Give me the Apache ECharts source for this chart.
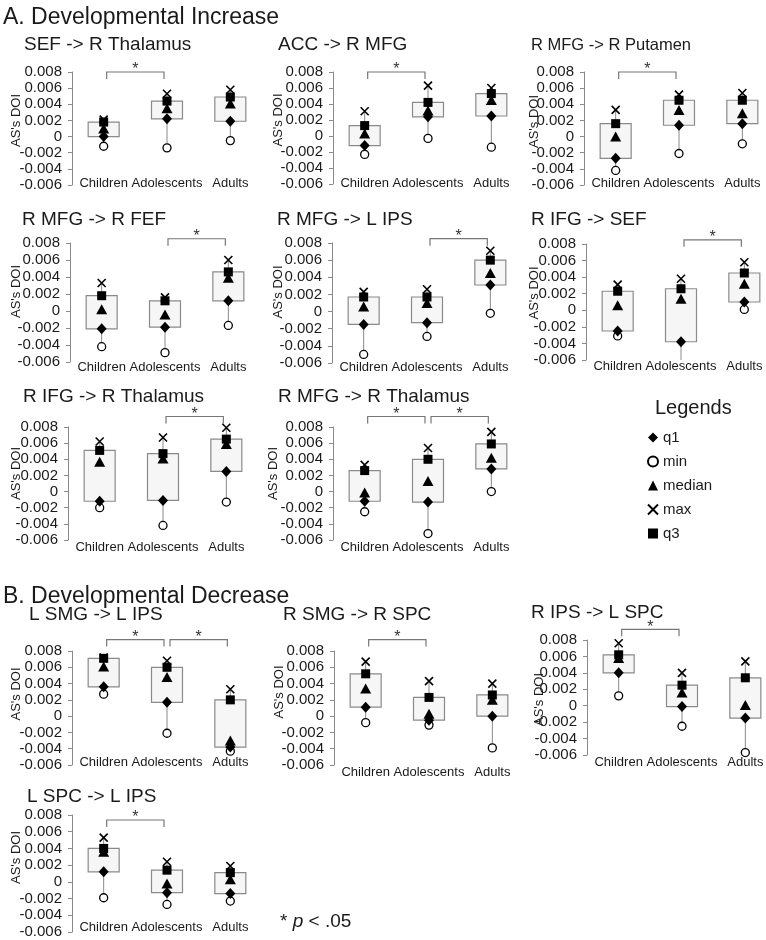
<!DOCTYPE html>
<html><head><meta charset="utf-8">
<script src="https://cdn.jsdelivr.net/npm/echarts@6/dist/echarts.min.js"></script>
<style>html,body{margin:0;padding:0;background:#fff}#chart{width:766px;height:940px}</style>
</head><body><div id="chart"></div>
<script>
// ---------------- DATA ----------------
const categories = ['Children', 'Adolescents', 'Adults'];
const sectionTitles = ['A. Developmental Increase', 'B. Developmental Decrease'];
const panelTitles = ['SEF -> R Thalamus', 'ACC -> R MFG', 'R MFG -> R Putamen',
  'R MFG -> R FEF', 'R MFG -> L IPS', 'R IFG -> SEF',
  'R IFG -> R Thalamus', 'R MFG -> R Thalamus',
  'L SMG -> L IPS', 'R SMG -> R SPC', 'R IPS -> L SPC', 'L SPC -> L IPS'];
const yAxisName = "AS's DOI";
const yRange = [-0.006, 0.008];
const yInterval = 0.002;
const legendNames = ['q1', 'min', 'median', 'max', 'q3'];
const legendTitle = 'Legends';
const footnote = ['* ', 'p', ' < .05'];

// per panel: [Children, Adolescents, Adults]
const mins = [
  [-0.0012, -0.0014, -0.0005], [-0.0023, -0.0003, -0.0014], [-0.0042, -0.0021, -0.0009],
  [-0.0042, -0.0049, -0.0017], [-0.0050, -0.0029, -0.0002], [-0.0031, -0.0066, 0.0001],
  [-0.0020, -0.0042, -0.0013], [-0.0025, -0.0052, 0.0000],
  [0.0027, -0.0021, -0.0043], [-0.0008, -0.0011, -0.0039], [0.0012, -0.0025, -0.0057], [-0.0019, -0.0027, -0.0023]
];
const q1s = [
  [0.0000, 0.0022, 0.0019], [-0.0012, 0.0024, 0.0025], [-0.0027, 0.0014, 0.0016],
  [-0.0021, -0.0019, 0.0012], [-0.0015, -0.0013, 0.0031], [-0.0025, -0.0038, 0.0010],
  [-0.0012, -0.0011, 0.0025], [-0.0012, -0.0013, 0.0028],
  [0.0036, 0.0017, -0.0038], [0.0011, -0.0005, 0.0000], [0.0040, -0.0001, -0.0015], [0.0012, -0.0013, -0.0014]
];
const medians = [
  [0.0010, 0.0035, 0.0041], [0.0003, 0.0032, 0.0045], [0.0000, 0.0033, 0.0029],
  [0.0002, -0.0004, 0.0039], [0.0006, 0.0010, 0.0045], [0.0006, 0.0014, 0.0032],
  [0.0037, 0.0041, 0.0059], [-0.0001, 0.0013, 0.0042],
  [0.0061, 0.0048, -0.0030], [0.0034, 0.0003, 0.0020], [0.0058, 0.0016, 0.0001], [0.0036, -0.0002, 0.0003]
];
const q3s = [
  [0.0018, 0.0044, 0.0049], [0.0013, 0.0042, 0.0053], [0.0016, 0.0045, 0.0045],
  [0.0018, 0.0012, 0.0046], [0.0017, 0.0017, 0.0060], [0.0023, 0.0026, 0.0045],
  [0.0051, 0.0047, 0.0065], [0.0026, 0.0040, 0.0059],
  [0.0071, 0.0060, 0.0020], [0.0052, 0.0023, 0.0026], [0.0062, 0.0025, 0.0034], [0.0040, 0.0014, 0.0011]
];
const maxs = [
  [0.0021, 0.0053, 0.0058], [0.0031, 0.0063, 0.0060], [0.0033, 0.0052, 0.0054],
  [0.0033, 0.0016, 0.0060], [0.0023, 0.0026, 0.0071], [0.0031, 0.0038, 0.0058],
  [0.0062, 0.0067, 0.0079], [0.0033, 0.0054, 0.0074],
  [0.0072, 0.0068, 0.0033], [0.0067, 0.0043, 0.0040], [0.0076, 0.0040, 0.0054], [0.0053, 0.0024, 0.0019]
];
// significance brackets per panel: [fromCategory, toCategory, level]
const significance = [
  [[0, 1, 0.0080]], [[0, 1, 0.0080]], [[0, 1, 0.0080]],
  [[1, 2, 0.0085]], [[1, 2, 0.0085]], [[1, 2, 0.0085]],
  [[1, 2, 0.0093]], [[0, 1, 0.0093], [1, 2, 0.0093]],
  [[0, 1, 0.0094], [1, 2, 0.0094]], [[0, 1, 0.0094]], [[0, 1, 0.0093]], [[0, 1, 0.0074]]
];

// ---------------- LAYOUT (pixels, styles) ----------------
// [gridLeft, gridTop, gridHeight, titleLeft, titleCenterY, titleSize, nameDist, nameShift, xLabelMargin]
const layout = [
  [72, 72, 113, 24, 45, 19, 57, 8, -8],
  [333, 72, 112, 278, 45, 19, 56, 8, -7],
  [584, 72, 113, 531, 45, 16.5, 51, 7, -8],
  [70, 243, 119, 22, 220, 19, 55, 11, -1],
  [332, 243, 120, 277, 220, 19, 55, 11, -2],
  [586, 244, 116, 531, 220, 19, 53, 9, 0],
  [68, 427, 113, 23, 397, 19, 53, 10, 1],
  [333, 427, 113, 278, 397, 19, 61, 10, 1],
  [72, 651, 114, 29, 615, 19, 57, 14, -9],
  [334, 651, 114, 283, 615, 19, 56, 16, 1],
  [587, 640, 115, 531, 613, 19, 49, -2, 1],
  [72, 815, 117, 27, 797, 19, 57, 16, -11]
];
const GRID_W = 190;
const BOX_W = 31;
const FONT = 'Liberation Sans, Arial, sans-serif';
const TXT = '#1a1a1a';
const GREY = '#8a8a8a';

const markerDefs = [
  { name: 'min', src: mins, symbol: 'circle', size: 8, style: { color: '#fff', borderColor: '#000', borderWidth: 1.3 } },
  { name: 'q1', src: q1s, symbol: 'diamond', size: [10, 11], style: { color: '#000' } },
  { name: 'median', src: medians, symbol: 'triangle', size: [11, 10], style: { color: '#000' } },
  { name: 'max', src: maxs, symbol: 'path://M0,0L10,10M10,0L0,10', size: 8, style: { color: '#000', borderColor: '#000', borderWidth: 1.6 } },
  { name: 'q3', src: q3s, symbol: 'rect', size: 9, style: { color: '#000' } }
];

function renderBox(params, api) {
  const x = api.value(0);
  const pMin = api.coord([x, api.value(1)]);
  const pQ1 = api.coord([x, api.value(2)]);
  const pQ3 = api.coord([x, api.value(3)]);
  const pMax = api.coord([x, api.value(4)]);
  return {
    type: 'group', children: [
      { type: 'line', shape: { x1: pMin[0], y1: pMin[1], x2: pMax[0], y2: pMax[1] }, style: { stroke: GREY, lineWidth: 1 } },
      { type: 'rect', shape: { x: pQ1[0] - BOX_W / 2, y: pQ3[1], width: BOX_W, height: pQ1[1] - pQ3[1] },
        style: { fill: '#f6f6f6', stroke: GREY, lineWidth: 1.2 } }
    ]
  };
}
function renderBracket(params, api) {
  const a = api.coord([api.value(0), api.value(2)]);
  const b = api.coord([api.value(1), api.value(2)]);
  const x1 = a[0] + 3, x2 = b[0] - 3, y = a[1];
  return {
    type: 'group', children: [
      { type: 'polyline', shape: { points: [[x1, y + 7], [x1, y], [x2, y], [x2, y + 7]] },
        style: { stroke: '#777', lineWidth: 1.2, fill: null } },
      { type: 'text', style: { text: '*', x: (x1 + x2) / 2, y: y - 2, align: 'center', verticalAlign: 'middle',
        fontSize: 16, fontFamily: FONT, fill: '#333' } }
    ]
  };
}

const grids = [], xAxes = [], yAxes = [], series = [], titles = [];
titles.push({ text: sectionTitles[0], left: 3, top: 18 - 13, padding: 0,
  textStyle: { fontSize: 23, lineHeight: 26, fontWeight: 'normal', fontFamily: FONT, color: TXT } });
titles.push({ text: sectionTitles[1], left: 3, top: 597 - 13, padding: 0,
  textStyle: { fontSize: 23, lineHeight: 26, fontWeight: 'normal', fontFamily: FONT, color: TXT } });
titles.push({ text: legendTitle, left: 655, top: 408 - 11, padding: 0,
  textStyle: { fontSize: 20, lineHeight: 22, fontWeight: 'normal', fontFamily: FONT, color: TXT } });
titles.push({ text: '{a|' + footnote[0] + '}{b|' + footnote[1] + '}{a|' + footnote[2] + '}', left: 280, top: 922 - 11, padding: 0,
  textStyle: { fontSize: 19, lineHeight: 22, fontWeight: 'normal', fontFamily: FONT, color: TXT,
    rich: { a: { fontSize: 19, fontWeight: 'normal', fontFamily: FONT, color: TXT },
            b: { fontSize: 19, fontWeight: 'normal', fontFamily: FONT, fontStyle: 'italic', color: TXT } } } });

panelTitles.forEach((t, i) => {
  const L = layout[i];
  grids.push({ left: L[0], top: L[1], height: L[2], width: GRID_W, containLabel: false, outerBoundsMode: 'none' });
  titles.push({ text: t, left: L[3], top: L[4] - (L[5] + 2) / 2, padding: 0,
    textStyle: { fontSize: L[5], lineHeight: L[5] + 2, fontWeight: 'normal', fontFamily: FONT, color: TXT } });
  xAxes.push({
    gridIndex: i, type: 'category', data: categories, boundaryGap: true,
    axisLine: { show: false }, axisTick: { show: false }, splitLine: { show: false },
    axisLabel: { interval: 0, margin: L[8], fontSize: 13, fontFamily: FONT, color: TXT, hideOverlap: false }
  });
  const shift = L[7];
  yAxes.push({
    gridIndex: i, type: 'value', min: yRange[0], max: yRange[1], interval: yInterval,
    name: yAxisName, nameLocation: 'middle', nameGap: L[6] - 8, nameMoveOverlap: false,
    nameTextStyle: { fontSize: 13, fontFamily: FONT, color: TXT,
      padding: shift >= 0 ? [0, 0, 0, 2 * shift] : [0, -2 * shift, 0, 0] },
    axisLine: { show: true, lineStyle: { color: GREY, width: 1 } },
    axisTick: { show: true, inside: false, length: 4, lineStyle: { color: GREY } },
    splitLine: { show: false },
    axisLabel: { margin: 10, fontSize: 15, fontFamily: FONT, color: TXT,
      formatter: v => (Math.abs(v) < 1e-9 ? '0' : v.toFixed(3)) }
  });
  series.push({
    type: 'custom', name: 'box' + i, xAxisIndex: i, yAxisIndex: i, clip: true, silent: true,
    renderItem: renderBox, encode: { x: 0, y: [1, 2, 3, 4] },
    data: categories.map((c, k) => [k, mins[i][k], q1s[i][k], q3s[i][k], maxs[i][k]])
  });
  series.push({
    type: 'custom', name: 'sig' + i, xAxisIndex: i, yAxisIndex: i, clip: false, silent: true,
    renderItem: renderBracket, encode: { x: [0, 1], y: 2 },
    data: significance[i]
  });
  markerDefs.forEach(m => {
    series.push({
      type: 'scatter', name: m.name, xAxisIndex: i, yAxisIndex: i, clip: true, silent: true,
      symbol: m.symbol, symbolSize: m.size, itemStyle: Object.assign({ opacity: 1 }, m.style),
      emphasis: { disabled: true },
      data: categories.map((c, k) => [k, m.src[i][k]])
    });
  });
});

const chart = echarts.init(document.getElementById('chart'), null, { renderer: 'canvas', width: 766, height: 940 });
chart.setOption({
  backgroundColor: '#fff',
  animation: false,
  title: titles,
  grid: grids,
  xAxis: xAxes,
  yAxis: yAxes,
  legend: {
    data: legendNames, orient: 'vertical', left: 647, top: 430, padding: 0,
    itemWidth: 10, itemHeight: 10, itemGap: 9, selectedMode: false,
    textStyle: { fontSize: 15, fontFamily: FONT, color: TXT }
  },
  tooltip: { show: false },
  series: series
});
</script></body></html>
